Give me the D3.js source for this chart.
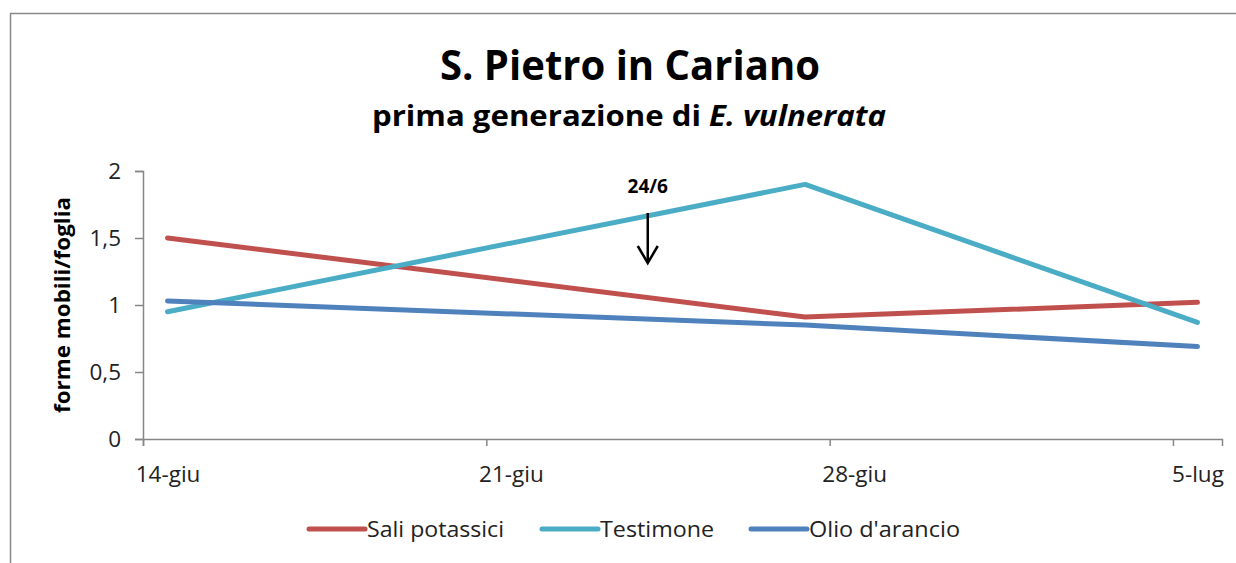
<!DOCTYPE html>
<html>
<head>
<meta charset="utf-8">
<script src="https://cdn.jsdelivr.net/npm/d3@7"></script>
<style>
  body { margin: 0; background: #fff; }
  text { font-family: "Open Sans", "Noto Sans", sans-serif; }
</style>
</head>
<body>
<div id="chart"></div>
<script>
// data
var seriesNames = ["Sali potassici", "Testimone", "Olio d'arancio"];
var seriesColors = ["#C0504D", "#4BACC6", "#4F81BD"];
var sampleDates = ["2013-06-14", "2013-06-27", "2013-07-05"];
var saliValues = [1.50, 0.91, 1.02];
var testimoneValues = [0.95, 1.90, 0.87];
var olioValues = [1.03, 0.85, 0.69];
var yTicks = [0, 0.5, 1, 1.5, 2];
var xTickDates = ["2013-06-14", "2013-06-21", "2013-06-28", "2013-07-05"];
var treatmentDate = "2013-06-23T19:00";

var parse = function (s) { return s.length > 10 ? d3.timeParse("%Y-%m-%dT%H:%M")(s) : d3.timeParse("%Y-%m-%d")(s); };
var mesi = ["gen","feb","mar","apr","mag","giu","lug","ago","set","ott","nov","dic"];

var W = 1236, H = 563;
var svg = d3.select("#chart").append("svg")
    .attr("width", W).attr("height", H);

// outer chart border
svg.append("rect")
    .attr("x", 10.5).attr("y", 13.5)
    .attr("width", 1240).attr("height", 600)
    .attr("fill", "none").attr("stroke", "#898989").attr("stroke-width", 1.5);

// x scale: one day per category, labels in day centre
var x = d3.scaleTime()
    .domain([new Date(2013, 5, 13, 12), new Date(2013, 6, 5, 12)])
    .range([143, 1222]);
var halfDay = (x(new Date(2013, 5, 15)) - x(new Date(2013, 5, 14))) / 2;

var y = d3.scaleLinear().domain([0, 2]).range([439, 171]);

var xAxis = svg.append("g")
    .attr("transform", "translate(0,439)")
    .call(d3.axisBottom(x)
        .tickValues(xTickDates.map(parse))
        .tickSizeOuter(0)
        .tickSize(7)
        .tickFormat(function (d) { return d.getDate() + "-" + mesi[d.getMonth()]; }));
xAxis.select(".domain").attr("stroke", "#868686").attr("stroke-width", 1.5);
xAxis.selectAll(".tick line")
    .attr("x1", -halfDay).attr("x2", -halfDay)
    .attr("stroke", "#868686").attr("stroke-width", 1.5);
xAxis.selectAll(".tick text")
    .attr("y", 43).attr("dy", 0)
    .attr("fill", "#222")
    .style("font-size", "22.5px");

var yAxis = svg.append("g")
    .attr("transform", "translate(143,0)")
    .call(d3.axisLeft(y)
        .tickValues(yTicks)
        .tickSizeOuter(0)
        .tickSize(8)
        .tickPadding(14)
        .tickFormat(function (d) { return String(d).replace(".", ","); }));
yAxis.select(".domain").attr("stroke", "#868686").attr("stroke-width", 1.5);
yAxis.selectAll(".tick line").attr("stroke", "#868686").attr("stroke-width", 1.5);
yAxis.selectAll(".tick text")
    .attr("fill", "#222")
    .style("font-size", "22.5px");

// y axis title
svg.append("text")
    .attr("transform", "translate(70,305) rotate(-90)")
    .attr("text-anchor", "middle")
    .attr("textLength", 216).attr("lengthAdjust", "spacingAndGlyphs")
    .style("font-size", "21px").style("font-weight", "bold")
    .text("forme mobili/foglia");

// titles
svg.append("text")
    .attr("x", 630).attr("y", 80)
    .attr("text-anchor", "middle")
    .attr("textLength", 380).attr("lengthAdjust", "spacingAndGlyphs")
    .style("font-size", "42px").style("font-weight", "bold")
    .text("S. Pietro in Cariano");

var sub = svg.append("text")
    .attr("x", 629).attr("y", 126)
    .attr("text-anchor", "middle")
    .attr("textLength", 514).attr("lengthAdjust", "spacingAndGlyphs")
    .style("font-size", "28px").style("font-weight", "bold");
sub.append("tspan").text("prima generazione di ");
sub.append("tspan").style("font-style", "italic").text("E. vulnerata");

// lines
var allValues = [saliValues, testimoneValues, olioValues];
var line = d3.line()
    .x(function (d) { return x(d.date); })
    .y(function (d) { return y(d.value); });

allValues.forEach(function (vals, i) {
    var pts = vals.map(function (v, j) { return { date: parse(sampleDates[j]), value: v }; });
    svg.append("path")
        .datum(pts)
        .attr("d", line)
        .attr("fill", "none")
        .attr("stroke", seriesColors[i])
        .attr("stroke-width", 5)
        .attr("stroke-linecap", "round")
        .attr("stroke-linejoin", "round");
});

// treatment annotation
var ax = x(parse(treatmentDate));
svg.append("text")
    .attr("x", ax).attr("y", 193)
    .attr("text-anchor", "middle")
    .style("font-size", "19px").style("font-weight", "bold")
    .text("24/6");
svg.append("line")
    .attr("x1", ax).attr("x2", ax).attr("y1", 213).attr("y2", 262)
    .attr("stroke", "#000").attr("stroke-width", 2.5);
svg.append("path")
    .attr("d", "M" + (ax - 10) + ",246L" + ax + ",263L" + (ax + 10) + ",246")
    .attr("fill", "none").attr("stroke", "#000").attr("stroke-width", 2.5);

// legend
var legendX = [309, 542, 751];
var legendLen = [137, 114, 151];
var legend = svg.append("g").attr("transform", "translate(0,529)");
seriesNames.forEach(function (name, i) {
    legend.append("line")
        .attr("x1", legendX[i]).attr("x2", legendX[i] + 56)
        .attr("y1", 0).attr("y2", 0)
        .attr("stroke", seriesColors[i]).attr("stroke-width", 5)
        .attr("stroke-linecap", "round");
    legend.append("text")
        .attr("x", legendX[i] + 58).attr("y", 8)
        .attr("fill", "#222")
        .attr("textLength", legendLen[i]).attr("lengthAdjust", "spacingAndGlyphs")
        .style("font-size", "22.5px")
        .text(name);
});
</script>
</body>
</html>
